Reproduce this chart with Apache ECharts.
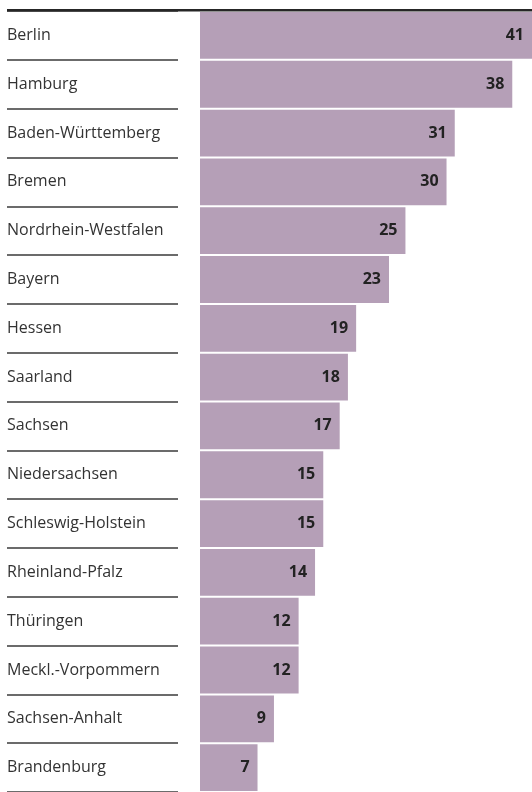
<!DOCTYPE html>
<html>
<head>
<meta charset="utf-8">
<script src="https://cdn.jsdelivr.net/npm/echarts@6/dist/echarts.min.js"></script>
<style>
  html, body { margin: 0; padding: 0; background: #fff; }
  #chart { width: 532px; height: 792px; }
</style>
</head>
<body>
<div id="chart"></div>
<script>
// Bundesländer, von oben nach unten
const laender = [
  "Berlin", "Hamburg", "Baden-Württemberg", "Bremen", "Nordrhein-Westfalen",
  "Bayern", "Hessen", "Saarland", "Sachsen", "Niedersachsen",
  "Schleswig-Holstein", "Rheinland-Pfalz", "Thüringen", "Meckl.-Vorpommern",
  "Sachsen-Anhalt", "Brandenburg"
];
const werte = [41, 38, 31, 30, 25, 23, 19, 18, 17, 15, 15, 14, 12, 12, 9, 7];

const chart = echarts.init(document.getElementById("chart"));
const option = {
  animation: false,
  backgroundColor: "#fff",
  textStyle: { fontFamily: "Open Sans" },
  grid: [
    // Balken (Berlin läuft über den rechten Rand hinaus)
    { left: 200, top: 11, right: 0, height: 784 },
    // Trennlinien + Namen links
    { left: 7, top: 11, width: 171, height: 784 }
  ],
  xAxis: [
    { gridIndex: 0, type: "value", min: 0, max: 40.4, show: false },
    { gridIndex: 1, type: "value", min: 0, max: 1, show: false }
  ],
  yAxis: [
    {
      gridIndex: 0, type: "category", data: laender, inverse: true,
      axisLine: { show: false }, axisTick: { show: false },
      axisLabel: { show: false }, splitLine: { show: false }
    },
    {
      gridIndex: 1, type: "category", data: laender, inverse: true,
      axisLine: { show: false }, axisTick: { show: false },
      axisLabel: {
        inside: true, margin: 0, align: "left",
        color: "#333", fontSize: 16, fontFamily: "Open Sans"
      },
      splitLine: { show: true, interval: 0, lineStyle: { color: "#3a3a3a", width: 1.5 } }
    }
  ],
  series: [
    {
      type: "bar",
      xAxisIndex: 0, yAxisIndex: 0,
      data: werte,
      barCategoryGap: 2,
      itemStyle: { color: "#b59fb7" },
      label: {
        show: true, position: "insideRight", distance: 8,
        color: "#222", fontSize: 16, fontWeight: "bold", fontFamily: "Open Sans"
      }
    }
  ],
  graphic: [
    // obere Linie
    {
      type: "rect", left: 7, top: 9, z: 100,
      shape: { width: 525, height: 2.5 },
      style: { fill: "#262626" }
    }
  ]
};
chart.setOption(option);
</script>
</body>
</html>
